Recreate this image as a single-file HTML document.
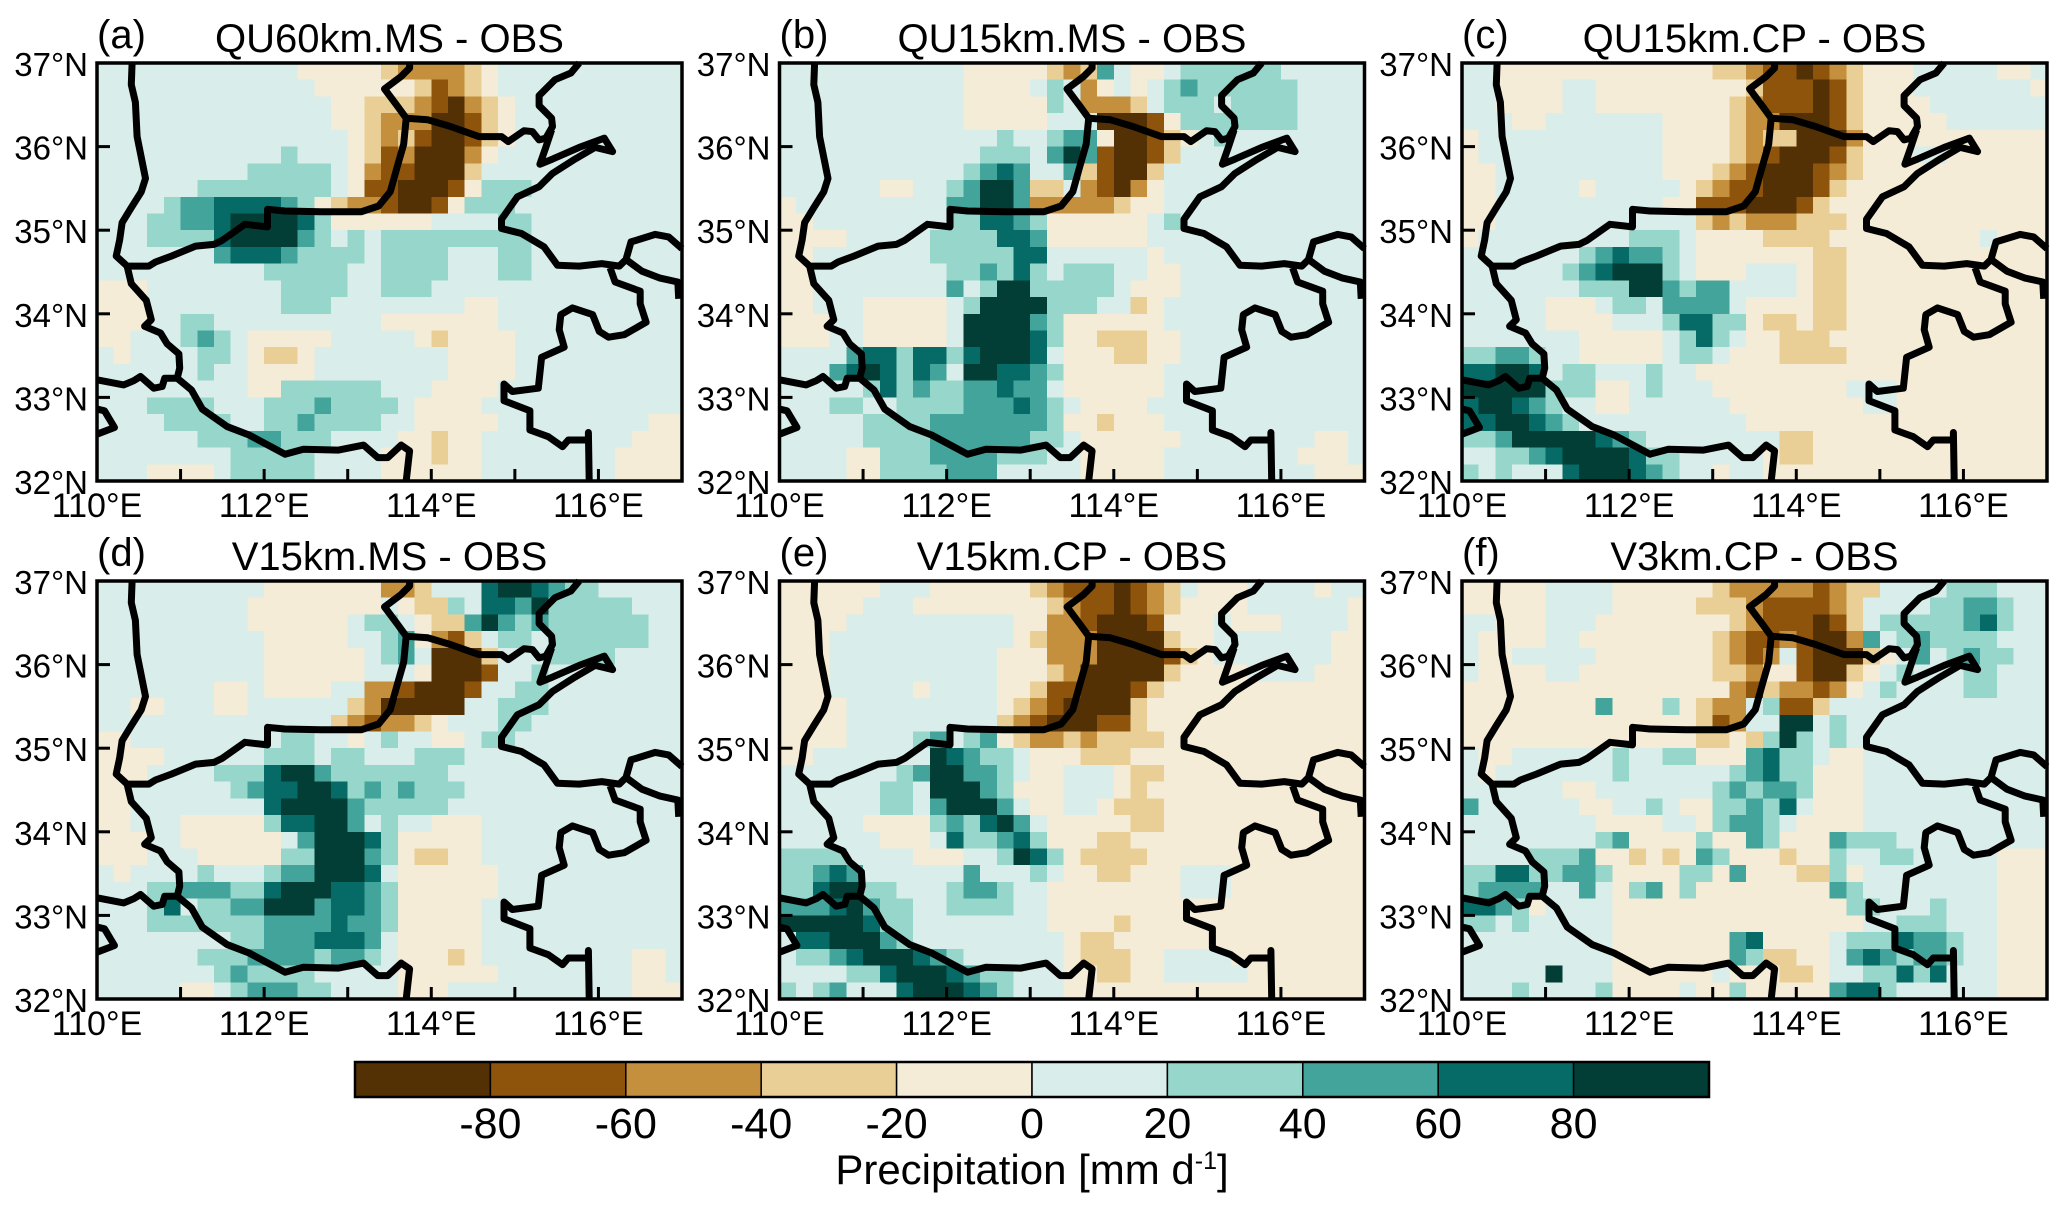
<!DOCTYPE html>
<html lang="en">
<head>
<meta charset="utf-8">
<title>Precipitation bias panels</title>
<style>
html,body{margin:0;padding:0;background:#fff;}
svg{display:block;font-family:"Liberation Sans",sans-serif;fill:#000;}
</style>
</head>
<body>
<svg id="chart" xmlns="http://www.w3.org/2000/svg" width="2067" height="1212" viewBox="0 0 2067 1212"></svg>
<script>
// Values are precipitation-bias bin indices: bin n covers -100+20n .. -80+20n mm/d. Rows run north to south, columns west to east.
const panelA=[
[5,5,5,5,5,5,5,5,5,5,5,5,4,4,4,4,4,3,2,2,2,2,3,4,5,5,5,5,5,5,5,5,5,5,5],
[5,5,5,5,5,5,5,5,5,5,5,5,5,4,4,4,4,4,4,3,1,2,3,4,5,5,5,5,5,5,5,5,5,5,5],
[5,5,5,5,5,5,5,5,5,5,5,5,5,5,4,4,3,3,3,2,1,0,2,3,4,5,5,5,5,5,5,5,5,5,5],
[5,5,5,5,5,5,5,5,5,5,5,5,5,5,4,4,3,2,2,2,0,0,1,3,4,5,5,5,5,5,5,5,5,5,5],
[5,5,5,5,5,5,5,5,5,5,5,5,5,5,5,4,3,2,3,1,0,0,1,3,4,5,5,5,5,5,5,5,5,5,5],
[5,5,5,5,5,5,5,5,5,5,5,6,5,5,5,4,3,1,2,0,0,0,2,4,5,5,5,5,5,5,5,5,5,5,5],
[5,5,5,5,5,5,5,5,5,6,6,6,6,6,5,4,2,1,1,0,0,0,3,5,5,5,5,5,5,5,5,5,5,5,5],
[5,5,5,5,5,5,6,6,6,6,6,6,6,6,5,4,1,1,0,0,0,1,4,6,6,6,5,5,5,5,5,5,5,5,5],
[5,5,5,5,6,7,7,8,8,8,8,7,6,4,3,2,2,1,0,0,1,4,6,6,6,5,5,5,5,5,5,5,5,5,5],
[5,5,5,6,6,7,7,8,9,9,9,9,8,6,4,4,4,4,4,4,5,5,5,5,6,6,5,5,5,5,5,5,5,5,5],
[5,5,5,6,6,6,6,8,9,9,9,9,7,6,5,6,5,6,6,6,6,6,6,6,6,6,5,5,5,5,5,5,5,5,5],
[5,5,5,5,5,5,5,7,8,8,8,7,6,6,6,6,5,6,6,6,6,5,5,5,6,6,5,5,5,5,5,5,5,5,5],
[5,5,5,5,5,5,5,5,5,5,6,6,6,6,6,5,5,6,6,6,6,5,5,5,6,6,5,5,5,5,5,5,5,5,5],
[4,4,4,5,5,5,5,5,5,5,5,6,6,6,6,5,5,6,6,6,5,5,5,5,5,5,5,5,5,5,5,5,5,5,5],
[4,4,4,5,5,5,5,5,5,5,5,6,6,6,5,5,5,5,5,5,5,5,4,4,5,5,5,5,5,5,5,5,5,5,5],
[4,4,4,5,5,6,6,5,5,5,5,5,5,5,5,5,5,4,4,4,4,4,4,4,5,5,5,5,5,5,5,5,5,5,5],
[4,4,5,5,5,6,7,6,5,4,4,4,4,4,5,5,5,5,5,4,3,4,4,4,4,5,5,5,5,5,5,5,5,5,5],
[5,4,5,5,5,5,6,6,5,4,3,3,4,5,5,5,5,5,5,5,5,4,4,4,4,5,5,5,5,5,5,5,5,5,5],
[5,5,5,5,5,5,6,5,5,4,4,4,4,5,5,5,5,5,5,5,5,4,4,4,4,5,5,5,5,5,5,5,5,5,5],
[5,5,5,5,5,5,5,5,5,4,4,6,6,6,6,6,6,5,5,5,4,4,4,4,5,5,5,5,5,5,5,5,5,5,5],
[5,5,5,6,6,6,6,5,5,5,6,6,6,7,6,6,6,6,5,4,4,4,4,5,5,5,5,5,5,5,5,5,5,5,5],
[5,5,5,5,6,6,6,6,5,5,6,6,7,6,6,6,6,5,5,4,4,4,4,4,5,5,5,5,5,5,5,5,5,4,4],
[5,5,5,5,5,5,6,6,6,7,7,6,6,6,5,5,5,5,4,4,3,4,4,5,5,5,5,5,5,5,5,5,4,4,4],
[5,5,5,5,5,5,5,5,6,6,6,6,6,5,5,5,5,4,4,4,3,4,4,5,5,5,5,5,5,5,5,4,4,4,4],
[5,5,5,4,4,4,4,5,6,6,6,6,6,5,5,5,5,4,4,4,4,4,4,5,5,5,5,5,5,5,5,4,4,4,4]];
const panelB=[
[5,5,5,5,5,5,5,5,5,5,5,4,4,4,4,4,3,2,3,7,5,4,4,5,6,6,6,6,6,6,5,5,5,5,5],
[5,5,5,5,5,5,5,5,5,5,5,4,4,4,4,5,6,5,2,4,5,4,5,6,7,6,6,6,6,6,6,5,5,5,5],
[5,5,5,5,5,5,5,5,5,5,5,4,4,4,4,4,6,5,2,2,2,3,5,6,6,6,5,6,6,6,6,5,5,5,5],
[5,5,5,5,5,5,5,5,5,5,5,4,4,4,4,4,5,5,5,0,0,0,1,4,6,6,6,6,6,6,6,5,5,5,5],
[5,5,5,5,5,5,5,5,5,5,5,5,5,6,5,5,6,7,7,4,0,0,1,3,4,5,6,5,5,5,5,5,5,5,5],
[5,5,5,5,5,5,5,5,5,5,5,5,6,6,6,5,7,9,7,1,0,0,1,3,5,5,5,5,5,5,5,5,5,5,5],
[5,5,5,5,5,5,5,5,5,5,5,6,7,8,7,5,5,7,3,1,0,0,3,5,5,5,5,5,5,5,5,5,5,5,5],
[5,5,5,5,5,5,4,4,5,5,6,7,9,9,7,3,3,5,2,1,0,2,4,5,5,5,5,5,5,5,5,5,5,5,5],
[4,5,5,5,5,5,5,5,5,5,7,7,9,9,7,2,2,2,2,2,3,4,4,5,5,5,5,5,5,5,5,5,5,5,5],
[4,4,5,5,5,5,5,5,5,5,6,6,8,8,7,6,4,4,4,4,4,4,5,6,5,5,5,5,5,5,5,5,5,5,5],
[4,4,4,4,5,5,5,5,5,6,6,6,6,8,8,7,4,4,4,4,4,4,5,5,5,5,5,5,5,5,5,5,5,5,5],
[4,4,5,5,5,5,5,5,5,6,6,6,6,6,8,8,5,5,5,5,5,5,4,5,5,5,5,5,5,5,5,5,5,5,5],
[4,4,5,5,5,5,5,5,5,5,6,6,7,6,8,6,5,6,6,6,5,5,4,4,5,5,5,5,5,5,5,5,5,5,5],
[4,4,5,5,5,5,5,5,5,5,7,5,6,9,9,6,6,6,6,6,5,4,4,4,5,5,5,5,5,5,5,5,5,5,5],
[4,4,5,5,5,4,4,4,4,4,5,6,9,9,9,9,6,6,6,5,5,3,4,5,5,5,5,5,5,5,5,5,5,5,5],
[4,4,4,5,5,4,4,4,4,4,5,9,9,9,9,7,6,4,4,4,4,4,4,5,5,5,5,5,5,5,5,5,5,5,5],
[4,4,4,5,5,4,4,4,4,4,5,9,9,9,9,8,6,4,4,3,3,3,4,4,5,5,5,5,5,5,5,5,5,5,5],
[5,5,5,5,7,8,8,6,8,8,6,8,9,9,9,8,5,4,4,4,3,3,4,4,5,5,5,5,5,5,5,5,5,5,5],
[5,5,5,7,8,9,8,6,8,7,5,9,9,8,8,7,6,4,4,4,4,4,4,5,5,5,5,5,5,5,5,5,5,5,5],
[5,5,5,5,5,6,8,6,7,6,6,7,7,8,7,7,5,4,4,4,4,4,4,5,5,5,5,5,5,5,5,5,5,5,5],
[5,5,5,6,6,5,5,6,6,6,6,7,7,7,8,7,6,5,4,4,4,4,5,5,5,5,5,5,5,5,5,5,5,5,5],
[5,5,5,5,5,6,6,6,6,7,7,7,7,7,7,7,6,4,4,3,4,4,4,5,5,5,5,5,5,5,5,5,5,5,5],
[5,5,5,5,5,6,6,6,6,7,7,7,7,7,7,6,6,5,4,4,4,4,4,4,5,5,5,5,5,5,5,5,4,4,5],
[5,5,5,5,4,4,6,6,6,7,7,7,7,6,6,6,5,5,4,4,4,4,4,5,5,5,5,5,5,5,5,4,4,4,5],
[5,5,5,5,4,4,6,6,6,6,7,7,7,5,5,5,5,5,4,4,4,4,4,5,5,5,5,5,5,5,5,5,4,4,4]];
const panelC=[
[5,5,4,4,4,4,4,4,4,4,4,4,4,4,4,3,3,2,1,1,0,1,2,3,4,4,4,5,5,5,5,5,4,4,5],
[5,5,4,4,4,4,5,5,4,4,4,4,4,4,4,4,4,3,1,1,1,0,1,3,4,4,4,5,5,5,5,5,5,5,4],
[5,5,4,4,4,4,5,5,4,4,4,4,4,4,4,4,3,2,1,1,1,0,1,3,4,4,4,4,5,5,5,5,5,5,5],
[5,5,5,4,4,5,5,5,5,5,5,5,4,4,4,4,3,2,2,0,0,0,1,3,4,4,4,4,4,5,5,5,5,5,5],
[4,5,5,5,5,5,5,5,5,5,5,5,4,4,4,4,3,2,3,3,0,0,0,2,4,4,4,4,4,4,4,4,4,4,4],
[4,5,5,5,5,5,5,5,5,5,5,5,4,4,4,4,3,2,1,0,0,0,1,3,4,4,4,5,5,4,4,4,4,4,4],
[4,4,5,5,5,5,5,5,5,5,5,5,4,4,4,3,2,1,0,0,0,1,2,3,4,4,4,4,4,4,4,4,4,4,4],
[4,4,5,5,5,5,5,4,5,5,5,5,5,4,3,2,1,1,0,0,0,1,3,4,4,4,4,4,4,4,4,4,4,4,4],
[4,4,5,5,5,5,5,5,5,5,5,5,4,4,1,1,1,0,0,0,1,3,4,4,4,4,4,4,4,4,4,4,4,4,4],
[4,4,5,5,5,5,5,5,5,5,5,5,5,5,3,2,3,2,2,2,3,3,3,4,4,4,4,4,4,4,4,4,4,4,4],
[4,5,5,5,5,5,5,5,5,5,6,6,6,5,4,4,4,4,3,3,3,3,4,4,4,4,4,4,4,4,4,5,4,4,4],
[5,5,5,5,5,5,5,6,7,8,7,7,6,5,4,4,4,4,4,4,4,3,3,4,4,4,4,4,4,4,4,4,4,4,4],
[5,5,5,5,5,5,6,7,8,9,9,9,6,5,4,4,4,5,5,5,4,3,3,4,4,4,4,4,4,4,4,4,4,4,4],
[5,5,5,5,5,5,5,6,6,6,9,9,7,6,7,7,5,5,5,5,4,3,3,4,4,4,4,4,4,4,4,4,4,4,4],
[5,5,5,5,5,4,4,4,5,6,6,5,7,7,7,7,5,4,4,4,4,3,3,4,4,4,4,4,4,4,4,4,4,4,4],
[5,5,5,5,5,4,4,4,4,5,5,5,6,8,8,6,6,4,3,3,4,3,3,4,4,4,4,4,4,4,4,4,4,4,4],
[5,5,5,5,5,5,5,4,4,4,4,4,5,6,8,6,5,4,4,3,3,3,4,4,4,4,4,4,4,4,4,4,4,4,4],
[6,6,7,7,6,5,5,4,4,4,4,4,5,6,6,5,4,4,4,3,3,3,3,4,4,4,4,4,4,4,4,4,4,4,4],
[8,8,9,9,8,5,6,6,5,5,5,6,5,5,4,4,4,4,4,4,4,4,4,4,4,4,4,4,4,4,4,4,4,4,4],
[9,9,9,9,9,6,6,6,4,4,5,6,5,5,5,4,4,4,4,4,4,4,4,5,5,5,4,4,4,4,4,4,4,4,4],
[8,9,9,8,7,6,5,5,4,4,5,5,5,5,5,5,4,4,4,4,4,4,4,4,5,5,4,4,4,4,4,4,4,4,4],
[8,8,9,9,8,7,6,5,5,5,5,5,5,5,5,5,5,4,4,4,4,4,4,4,4,4,4,4,4,4,4,4,4,4,4],
[6,6,7,9,9,9,9,9,8,7,6,5,5,5,5,5,5,5,5,3,3,4,4,4,4,4,4,4,4,4,4,4,4,4,4],
[5,5,6,6,7,8,9,9,9,9,8,6,6,5,5,5,5,5,4,3,3,4,4,4,4,4,4,4,4,4,4,4,4,4,4],
[6,5,6,5,5,5,8,9,9,9,8,7,6,5,5,4,5,5,4,4,4,4,4,4,4,4,4,4,4,4,4,4,4,4,4]];
const panelD=[
[5,5,5,5,5,5,5,5,5,5,4,4,4,4,4,4,4,2,2,3,5,5,5,8,9,9,8,7,6,6,5,5,5,5,5],
[5,5,5,5,5,5,5,5,5,4,4,4,4,4,4,4,4,5,4,3,3,6,5,8,8,7,9,6,6,6,6,6,5,5,5],
[5,5,5,5,5,5,5,5,5,4,4,4,4,4,4,5,6,6,5,4,3,3,7,9,7,6,7,6,6,6,6,6,6,5,5],
[5,5,5,5,5,5,5,5,5,5,4,4,4,4,4,5,5,6,7,4,2,1,3,5,6,6,5,6,6,6,6,6,6,5,5],
[5,5,5,5,5,5,5,5,5,5,4,4,4,4,4,4,5,6,7,5,0,0,0,3,5,5,5,6,6,6,6,5,5,5,5],
[5,5,5,5,5,5,5,5,5,5,4,4,4,4,4,4,5,5,5,4,0,0,0,1,5,5,6,5,5,5,5,5,5,5,5],
[5,5,5,5,5,5,5,4,4,5,4,4,4,4,5,5,2,2,1,0,0,0,1,5,5,6,6,5,5,5,5,5,5,5,5],
[5,5,4,4,5,5,5,4,4,5,5,5,5,5,5,3,2,0,0,0,0,0,5,5,6,6,6,5,5,5,5,5,5,5,5],
[5,5,5,5,5,5,5,5,5,5,5,5,5,5,3,2,1,2,2,3,4,5,5,5,6,6,5,5,5,5,5,5,5,5,5],
[4,4,5,5,5,5,5,5,5,5,5,6,6,5,5,4,5,6,5,5,4,4,5,6,6,5,5,5,5,5,5,5,5,5,5],
[4,4,4,4,5,5,5,5,5,5,6,6,6,5,6,6,5,5,5,6,6,6,5,5,5,5,5,5,5,5,5,5,5,5,5],
[4,4,4,5,5,5,5,6,6,6,8,9,9,7,6,6,6,6,6,6,6,5,5,5,5,5,5,5,5,5,5,5,5,5,5],
[4,4,5,5,5,5,5,5,6,7,8,8,9,9,8,6,7,6,7,6,6,6,5,5,5,5,5,5,5,5,5,5,5,5,5],
[4,4,5,5,5,5,5,5,5,5,8,9,9,9,9,7,6,6,6,6,6,5,5,5,5,5,5,5,5,5,5,5,5,5,5],
[4,4,5,5,5,4,4,4,4,4,6,8,8,9,9,7,5,6,5,5,4,4,4,5,5,5,5,5,5,5,5,5,5,5,5],
[4,4,4,5,5,4,4,4,4,4,4,5,7,9,9,9,8,6,4,4,4,4,4,5,5,5,5,5,5,5,5,5,5,5,5],
[4,4,4,5,5,5,4,4,4,4,4,6,6,9,9,9,7,6,4,3,3,4,4,5,5,5,5,5,5,5,5,5,5,5,5],
[5,4,5,5,5,5,6,5,5,5,6,7,7,9,9,9,8,5,4,4,4,4,4,4,5,5,5,5,5,5,5,5,5,5,5],
[5,5,5,6,6,7,7,7,6,6,8,9,9,9,8,8,7,6,4,4,4,4,4,4,5,5,5,5,5,5,5,5,5,5,5],
[5,5,5,6,8,5,6,6,7,7,9,9,9,7,8,8,7,6,4,4,4,4,4,5,5,5,5,5,5,5,5,5,5,5,5],
[5,5,5,6,6,6,6,6,6,6,7,7,7,7,8,7,7,6,4,4,4,4,4,5,5,5,5,5,5,5,5,5,5,5,5],
[5,5,5,5,5,5,5,5,6,6,7,7,7,8,8,8,7,5,4,4,4,4,4,5,5,5,5,5,5,5,5,5,5,5,5],
[5,5,5,5,5,5,6,6,6,7,7,7,7,6,7,7,6,5,4,4,4,3,4,5,5,5,5,5,5,5,5,5,4,4,5],
[5,5,5,5,5,5,5,6,7,6,6,6,6,5,5,5,5,5,4,4,4,4,4,4,5,5,5,5,5,5,5,5,4,4,5],
[5,5,5,5,5,4,4,5,6,7,7,7,6,6,5,5,5,5,4,4,4,5,5,5,5,5,5,5,5,5,5,5,4,4,4]];
const panelE=[
[4,4,4,4,4,4,5,5,5,4,4,4,4,4,4,3,2,1,1,1,0,1,2,3,5,4,4,4,5,5,5,5,4,5,5],
[4,4,4,4,4,5,5,5,4,4,4,4,4,4,4,4,3,2,1,1,0,1,2,3,4,4,4,4,5,5,5,5,5,5,4],
[4,4,4,4,5,5,5,5,5,5,5,5,5,5,4,4,2,2,1,0,0,0,1,4,4,4,5,4,4,4,5,5,5,5,4],
[4,4,4,5,5,5,5,5,5,5,5,5,5,5,4,3,2,2,2,0,0,0,0,3,4,4,5,5,5,5,5,5,5,4,4],
[4,4,4,5,5,5,5,5,5,5,5,5,5,4,4,4,2,2,2,0,0,0,0,1,3,4,5,5,5,5,5,5,5,4,4],
[4,4,4,5,5,5,5,5,5,5,5,5,5,4,4,4,3,2,0,0,0,0,0,3,4,4,4,4,5,5,5,5,4,4,4],
[4,4,4,5,5,5,5,5,4,5,5,5,5,4,4,3,1,1,0,0,0,1,3,4,4,4,4,4,4,4,4,4,4,4,4],
[4,4,4,4,5,5,5,5,5,5,5,5,5,4,3,2,1,0,0,0,0,3,4,4,4,4,4,4,4,4,4,4,4,4,4],
[4,4,4,4,5,5,5,5,5,5,5,5,5,3,2,1,0,0,0,1,1,3,4,4,4,4,4,4,4,4,4,4,4,4,4],
[4,4,4,4,5,5,5,5,6,7,5,6,7,4,3,2,2,3,2,3,3,3,3,4,4,4,4,4,4,4,4,4,4,4,4],
[4,4,5,5,5,5,5,5,5,9,8,7,6,6,5,4,4,4,3,3,3,4,4,4,4,4,4,4,4,4,4,4,4,4,4],
[5,5,5,5,5,5,5,6,7,9,9,7,7,6,5,4,4,5,5,5,4,3,3,4,4,4,4,4,4,4,4,4,4,4,4],
[5,5,5,5,5,5,6,6,5,9,9,9,7,6,4,4,4,5,5,5,4,3,4,4,4,4,4,4,4,4,4,4,4,4,4],
[5,5,5,5,5,5,6,6,5,7,9,9,9,7,5,4,4,5,5,4,3,3,3,4,4,4,4,4,4,4,4,4,4,4,4],
[5,5,5,5,5,4,4,4,4,6,7,6,8,9,7,5,4,4,4,4,4,3,3,4,4,4,4,4,4,4,4,4,4,4,4],
[5,5,5,5,5,5,4,4,4,5,8,6,6,7,8,6,4,4,4,3,3,4,4,4,4,4,4,4,4,4,4,4,4,4,4],
[6,6,6,6,5,5,5,5,4,4,4,5,5,6,9,8,6,4,3,3,3,3,4,4,4,4,4,4,4,4,4,4,4,4,4],
[6,6,7,8,7,5,5,5,5,5,5,7,5,5,5,6,5,4,4,3,3,4,4,4,5,5,5,4,4,4,4,4,4,4,4],
[6,6,8,9,9,6,6,5,5,5,6,7,7,6,5,5,4,4,4,4,4,4,4,4,5,5,5,4,4,4,4,4,4,4,4],
[7,7,7,8,9,7,6,6,5,5,6,6,6,6,5,5,4,4,4,4,4,4,4,4,4,4,4,4,4,4,4,4,4,4,4],
[9,9,9,9,9,8,6,6,5,5,5,5,5,5,5,5,4,4,4,4,3,4,4,4,4,4,4,4,4,4,4,4,4,4,4],
[5,8,8,9,9,9,7,6,5,5,5,5,5,5,5,5,5,4,3,3,4,4,4,4,4,4,4,4,4,4,4,4,4,4,4],
[5,6,6,7,8,9,9,9,8,7,6,5,5,5,5,5,5,4,3,3,3,4,4,5,5,5,5,4,4,4,4,4,4,4,4],
[5,5,5,5,6,6,8,9,9,9,8,7,6,6,5,5,5,4,4,3,3,4,4,5,5,5,5,5,4,4,4,4,4,4,4],
[6,5,6,7,5,5,5,8,9,9,9,8,7,6,5,5,5,4,4,4,4,4,4,4,4,4,4,4,4,4,4,4,4,4,4]];
const panelF=[
[4,4,4,4,4,5,5,5,5,4,4,4,4,4,4,3,2,2,2,2,2,1,2,3,3,5,5,5,5,6,6,6,5,5,5],
[4,4,4,4,4,5,5,5,5,4,4,4,4,4,3,3,3,2,1,1,1,1,2,3,5,5,5,5,6,6,7,7,6,5,5],
[5,5,4,4,4,5,5,5,4,4,4,4,4,4,4,4,3,2,1,1,1,0,1,3,5,6,6,6,6,6,7,8,6,5,5],
[5,4,4,4,4,5,5,4,4,4,4,4,4,4,4,3,2,1,1,2,1,0,0,2,7,5,6,7,6,6,6,6,5,5,5],
[5,4,4,5,5,5,5,5,4,4,4,4,4,4,4,3,2,1,2,5,1,0,0,0,3,4,5,7,5,6,7,6,6,5,5],
[5,4,4,4,4,5,5,4,4,4,4,4,4,4,4,3,3,2,4,4,1,0,0,3,4,5,6,5,5,5,6,6,5,5,5],
[4,4,4,4,4,4,4,4,4,4,4,4,4,4,4,4,2,1,3,2,2,1,2,4,5,6,5,5,5,5,6,6,5,5,5],
[4,4,4,4,4,4,4,4,7,4,4,4,6,4,3,2,2,5,6,1,1,3,5,5,5,5,5,5,5,5,5,5,5,5,5],
[4,4,4,4,4,4,4,4,4,4,4,4,4,4,3,1,2,5,5,9,9,5,6,5,5,5,5,5,5,5,5,5,5,5,5],
[4,4,4,4,4,4,4,4,4,4,4,4,4,4,3,3,4,3,6,9,6,5,6,5,5,5,5,5,5,5,5,5,5,5,5],
[5,4,4,5,5,5,5,5,5,6,5,5,6,6,4,4,4,7,8,6,6,5,4,4,5,5,5,5,5,5,5,5,5,5,5],
[5,4,5,5,5,5,5,5,5,6,5,5,5,5,5,5,6,7,8,6,6,4,4,4,5,5,5,5,5,5,5,5,5,5,5],
[5,5,5,5,5,5,4,4,5,5,5,5,5,5,5,6,7,6,7,7,6,4,4,4,5,5,5,5,5,5,5,5,5,5,5],
[7,5,5,5,5,5,5,4,4,5,5,6,5,4,4,6,6,7,6,8,5,4,4,4,5,5,5,5,5,5,5,5,5,5,5],
[5,5,5,5,5,5,5,5,4,4,4,4,5,5,4,6,7,7,6,5,4,4,4,4,5,5,5,5,5,5,5,5,5,5,5],
[5,5,5,5,5,5,5,5,6,7,4,4,4,4,6,4,4,7,6,4,4,4,7,6,6,6,5,5,5,5,5,5,5,5,5],
[5,5,5,5,6,6,6,7,4,4,3,4,3,4,7,6,4,4,4,3,4,4,6,5,5,6,6,5,5,5,5,5,4,4,4],
[6,6,8,8,6,6,7,7,6,4,4,4,4,6,6,4,7,4,4,4,3,3,6,4,5,5,5,5,5,5,5,5,4,4,4],
[6,7,7,7,7,5,5,7,5,4,6,7,4,6,4,4,4,4,4,4,4,4,7,6,5,5,5,5,5,5,5,5,4,4,4],
[8,8,7,6,4,5,5,5,5,4,4,4,4,4,4,4,4,4,4,4,4,4,4,6,6,5,5,5,6,5,5,5,4,4,4],
[6,6,5,6,5,5,5,5,5,4,4,4,4,4,4,4,4,4,4,4,4,4,4,4,5,5,6,6,6,5,5,5,4,4,4],
[5,5,5,5,5,5,5,5,5,4,4,4,4,4,4,4,7,8,4,4,4,4,5,6,6,6,8,7,7,6,5,5,4,4,4],
[5,5,5,5,5,5,5,5,5,4,4,4,4,4,4,4,7,6,3,3,4,4,5,7,8,7,6,7,7,6,5,5,4,4,4],
[5,5,5,5,5,9,5,5,5,4,4,4,4,4,4,5,4,4,4,3,3,4,5,5,6,6,8,6,8,5,5,5,4,4,4],
[5,5,5,6,5,5,5,5,6,4,4,4,4,5,4,4,6,4,4,4,4,4,7,8,8,6,5,5,5,5,5,5,4,4,4]];

const panelLetters=["(a)","(b)","(c)","(d)","(e)","(f)"];
const panelTitles=["QU60km.MS - OBS","QU15km.MS - OBS","QU15km.CP - OBS","V15km.MS - OBS","V15km.CP - OBS","V3km.CP - OBS"];
const panelGrids=[panelA,panelB,panelC,panelD,panelE,panelF];
const lonTicks=[110,111,112,113,114,115,116];
const lonLabels=["110°E","","112°E","","114°E","","116°E"];
const latTicks=[37,36,35,34,33,32];
const latLabels=["37°N","36°N","35°N","34°N","33°N","32°N"];
const binColors=["#543005","#8f540c","#c4903d","#e9cf95","#f5ecd7","#d9edea","#96d6cb","#42a49a","#066b66","#023e35"];
const legendLabels=["-80","-60","-40","-20","0","20","40","60","80"];

// Province boundaries as [longitude, latitude] vertices.
const boundaryWest=[[110.42,37],[110.41,36.74],[110.46,36.53],[110.48,36.12],[110.58,35.62],[110.53,35.46],[110.41,35.27],[110.30,35.09],[110.27,34.88],[110.23,34.69],[110.36,34.57],[110.62,34.57],[110.70,34.62],[110.89,34.69],[111.18,34.81],[111.40,34.83],[111.50,34.88],[111.77,35.07],[112.04,35.04],[112.04,35.25],[112.25,35.23],[112.68,35.22],[113.16,35.22],[113.37,35.29],[113.51,35.46],[113.59,35.75],[113.67,36.03],[113.70,36.34]];
const boundaryNorth=[[113.70,36.34],[113.59,36.49],[113.44,36.69],[113.64,36.84],[113.74,36.94],[113.74,37]];
const boundaryNorthEast=[[113.70,36.34],[113.96,36.32],[114.23,36.24],[114.57,36.12],[114.84,36.12],[114.92,36.06],[115.11,36.19],[115.21,36.18],[115.29,36.08],[115.37,36.10],[115.45,36.24],[115.44,36.34],[115.29,36.49],[115.29,36.61],[115.48,36.80],[115.67,36.88],[115.77,37]];
const boundaryEast=[[115.44,36.20],[115.37,35.99],[115.30,35.79],[115.45,35.85],[115.77,35.99],[116.07,36.10],[116.17,35.94],[115.96,35.99],[115.72,35.85],[115.45,35.68],[115.29,35.52],[115.03,35.40],[114.84,35.13],[114.84,35.02],[115.08,34.96],[115.35,34.80],[115.51,34.58],[115.77,34.57],[116.04,34.60],[116.25,34.57],[116.33,34.65],[116.39,34.86],[116.68,34.95],[116.84,34.92],[117,34.78]];
const boundaryEastLower=[[116.33,34.65],[116.52,34.51],[116.73,34.43],[116.95,34.38],[116.96,34.18]];
const boundarySouthEast=[[116.14,34.55],[116.20,34.38],[116.50,34.27],[116.50,34.12],[116.57,33.90],[116.31,33.75],[116.12,33.72],[116.01,33.79],[115.93,33.99],[115.69,34.07],[115.55,33.99],[115.53,33.81],[115.59,33.60],[115.32,33.48],[115.28,33.11],[114.97,33.07],[114.87,33.16],[114.87,32.96],[115.18,32.84],[115.18,32.61],[115.40,32.53],[115.57,32.41],[115.64,32.49],[115.88,32.49],[115.88,32.58],[115.89,32]];
const boundarySouthWest=[[110.36,34.57],[110.41,34.36],[110.59,34.16],[110.65,33.93],[110.57,33.85],[110.76,33.77],[110.84,33.64],[110.98,33.52],[110.99,33.35],[110.96,33.23],[110.81,33.23],[110.78,33.13],[110.68,33.11],[110.52,33.25],[110.44,33.20],[110.32,33.15],[110,33.21]];
const boundarySouth=[[110.96,33.23],[111.13,33.09],[111.26,32.86],[111.56,32.65],[111.82,32.55],[112.25,32.32],[112.47,32.38],[112.89,32.37],[113.19,32.43],[113.36,32.28],[113.48,32.28],[113.64,32.43],[113.74,32.36],[113.70,32]];
const boundaryCorner=[[110,32.86],[110.09,32.84],[110.21,32.64],[110,32.56]];
const boundaryLines=[boundaryWest,boundaryNorth,boundaryNorthEast,boundaryEast,boundaryEastLower,boundarySouthEast,boundarySouthWest,boundarySouth,boundaryCorner];

const NS="http://www.w3.org/2000/svg";
const svg=document.getElementById("chart");
const PANEL_W=585, PANEL_H=418, LON_MIN=110, LON_MAX=117, LAT_MIN=32, LAT_MAX=37;
function panelLeft(i){return 97+(i%3)*682.5;}
function panelTop(i){return 63+Math.floor(i/3)*518;}
function xScale(lon,left){return left+(lon-LON_MIN)*PANEL_W/(LON_MAX-LON_MIN);}
function yScale(lat,top){return top+(LAT_MAX-lat)*PANEL_H/(LAT_MAX-LAT_MIN);}
function binToMm(bin){return -90+20*bin;}
function colorScale(mm){return binColors[Math.max(0,Math.min(9,Math.floor((mm+100)/20)))];}
function make(tag,attrs,parent){
  const el=document.createElementNS(NS,tag);
  for(const k in attrs){el.setAttribute(k,attrs[k]);}
  parent.appendChild(el);
  return el;
}

panelGrids.forEach(function(grid,p){
  const left=panelLeft(p), top=panelTop(p);
  const g=make("g",{},svg);
  
  

  const back=make("rect",{x:left,y:top,width:PANEL_W,height:PANEL_H,fill:colorScale(binToMm(5))},g);
  
  

  const rows=grid.length;
  grid.forEach(function(row,r){
    const latA=LAT_MAX-r*(LAT_MAX-LAT_MIN)/rows, latB=LAT_MAX-(r+1)*(LAT_MAX-LAT_MIN)/rows;
    row.forEach(function(bin,c){
      const lonA=LON_MIN+c*(LON_MAX-LON_MIN)/row.length, lonB=LON_MIN+(c+1)*(LON_MAX-LON_MIN)/row.length;
      const x0=xScale(lonA,left), x1=xScale(lonB,left), y0=yScale(latA,top), y1=yScale(latB,top);
      const cell=make("rect",{x:x0,y:y0,width:x1-x0+0.5,height:y1-y0+0.5,fill:colorScale(binToMm(bin)),"shape-rendering":"crispEdges"},g);
      
      
    });
  });

  boundaryLines.forEach(function(line){
    const pts=line.map(function(v){return xScale(v[0],left).toFixed(1)+","+yScale(v[1],top).toFixed(1);}).join(" ");
    const pl=make("polyline",{points:pts,fill:"none",stroke:"#000","stroke-width":7,"stroke-linejoin":"round","stroke-linecap":"butt"},g);
    
    
  });

  const frame=make("rect",{x:left,y:top,width:PANEL_W,height:PANEL_H,fill:"none",stroke:"#000","stroke-width":3.5},g);
  
  

  lonTicks.forEach(function(lon,i){
    const x=xScale(lon,left), b=top+PANEL_H;
    const t=make("line",{x1:x,x2:x,y1:b,y2:b-12,stroke:"#000","stroke-width":3},g);
    
    
    if(lonLabels[i]){
      const lb=make("text",{x:x,y:b+36,"text-anchor":"middle","font-size":34},g);
      lb.textContent=lonLabels[i];
      
      
    }
  });
  latTicks.forEach(function(lat,i){
    const y=yScale(lat,top);
    const t=make("line",{x1:left,x2:left+13,y1:y,y2:y,stroke:"#000","stroke-width":3},g);
    
    
    const lb=make("text",{x:left-9,y:y+13,"text-anchor":"end","font-size":33},g);
    lb.textContent=latLabels[i];
    
    
  });

  const letter=make("text",{x:left,y:top-15,"font-size":40},g);
  letter.textContent=panelLetters[p];
  
  
  const title=make("text",{x:left+PANEL_W/2,y:top-11,"text-anchor":"middle","font-size":40},g);
  title.textContent=panelTitles[p];
  
  
});

// Colour bar
const BAR_X=355, BAR_Y=1062, BAR_W=1354, BAR_H=35;
function barX(i){return BAR_X+i*BAR_W/binColors.length;}
const bar=make("g",{},svg);


binColors.forEach(function(color,i){
  const seg=make("rect",{x:barX(i),y:BAR_Y,width:BAR_W/binColors.length,height:BAR_H,fill:color,stroke:"#000","stroke-width":1.5},bar);
  
  
});
const barFrame=make("rect",{x:BAR_X,y:BAR_Y,width:BAR_W,height:BAR_H,fill:"none",stroke:"#000","stroke-width":2.5},bar);


legendLabels.forEach(function(label,i){
  const t=make("text",{x:barX(i+1),y:1138,"text-anchor":"middle","font-size":43},bar);
  t.textContent=label;
  
  
});
</script>
<svg xmlns="http://www.w3.org/2000/svg" width="2067" height="1212" viewBox="0 0 2067 1212" style="position:absolute;left:0;top:0;pointer-events:none;font-family:'Liberation Sans',sans-serif;">
<text x="1032" y="1184" text-anchor="middle" font-size="42">Precipitation [mm d<tspan dy="-15" font-size="25">-1</tspan><tspan dy="15">]</tspan></text>
</svg>
</body>
</html>
